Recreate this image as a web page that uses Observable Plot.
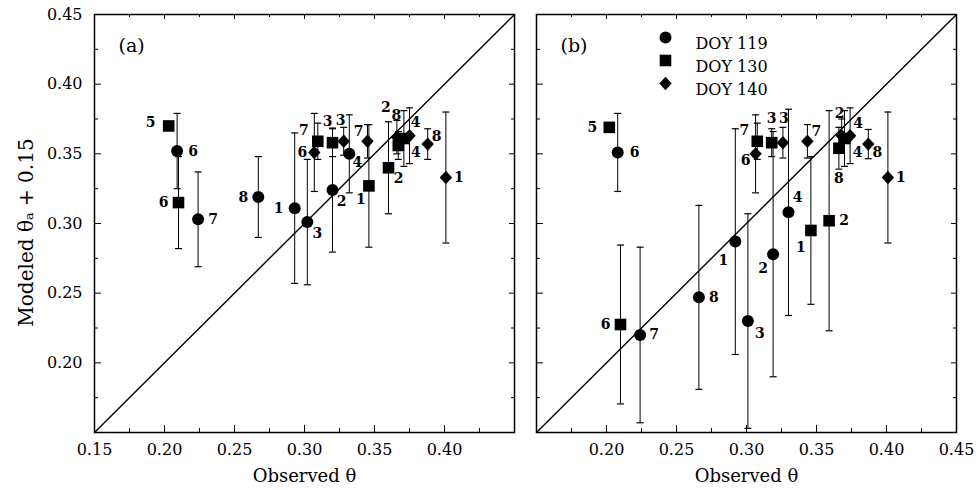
<!DOCTYPE html>
<html><head><meta charset="utf-8">
<script src="https://cdn.jsdelivr.net/npm/d3@7"></script>
<script src="https://cdn.jsdelivr.net/npm/@observablehq/plot@0.6"></script>
<style>
body{margin:0;background:#fff;}
#chart{position:relative;width:977px;height:490px;}
#chart svg{position:absolute;top:0;}
</style></head><body><div id="chart"></div>
<script>
// ---- data ----
const axisDomain = [0.15, 0.45];
const oneToOne = [0.15, 0.45];
const majorTicks = [0.15, 0.20, 0.25, 0.30, 0.35, 0.40, 0.45];
const minorTicks = [0.175, 0.225, 0.275, 0.325, 0.375, 0.425];
const xTickLabelsA = [0.15, 0.20, 0.25, 0.30, 0.35, 0.40];
const xTickLabelsB = [0.20, 0.25, 0.30, 0.35, 0.40, 0.45];
const yTickLabels = [0.20, 0.25, 0.30, 0.35, 0.40, 0.45];
const series = ["DOY 119", "DOY 130", "DOY 140"];
const panelNames = ["(a)", "(b)"];
const xTitle = "Observed θ";
const yTitle = "Modeled θₐ\u00a0+\u00a00.15";

// rows: [site, observed θ, modeled θa + 0.15, error]
const a119 = [[1,0.293,0.311,0.054],[2,0.320,0.324,0.0445],[3,0.302,0.301,0.045],[4,0.332,0.350,0.028],[6,0.209,0.352,0.027],[7,0.224,0.303,0.034],[8,0.267,0.319,0.029]];
const a130 = [[1,0.346,0.327,0.044],[2,0.360,0.340,0.033],[3,0.320,0.358,0.010],[4,0.371,0.361,0.020],[5,0.203,0.370,null],[6,0.210,0.315,0.033],[7,0.3095,0.359,0.013],[8,0.367,0.356,0.010]];
const a140 = [[1,0.401,0.333,0.047],[2,0.366,0.362,0.012],[3,0.328,0.359,0.010],[4,0.375,0.363,0.020],[6,0.307,0.351,0.028],[7,0.345,0.359,0.012],[8,0.388,0.357,0.011]];
const b119 = [[1,0.292,0.287,0.081],[2,0.319,0.278,0.088],[3,0.301,0.230,0.077],[4,0.330,0.308,0.074],[6,0.208,0.351,0.028],[7,0.224,0.220,0.063],[8,0.266,0.247,0.066]];
const b130 = [[1,0.346,0.295,0.053],[2,0.359,0.302,0.079],[3,0.318,0.358,0.010],[4,0.370,0.361,0.020],[5,0.202,0.369,null],[6,0.210,0.2275,0.057],[7,0.3077,0.359,0.013],[8,0.366,0.354,0.015]];
const b140 = [[1,0.401,0.333,0.047],[2,0.368,0.363,0.012],[3,0.326,0.358,0.011],[4,0.374,0.363,0.020],[6,0.3065,0.350,0.028],[7,0.3435,0.359,0.012],[8,0.387,0.357,0.0105]];

// ---- layout (label nudges in px) ----
const labelNudge = {
  "a0":{1:[-16,0],2:[9,11],3:[10,11],4:[8,9],6:[16,0],7:[15,0],8:[-15,0]},
  "a1":{1:[-8,14],2:[10,11],3:[-5,-21],4:[12,14],5:[-18,-3],6:[-15,0],7:[-14,-11],8:[-2,-30]},
  "a2":{1:[13,0],2:[-11,-30],3:[-3,-21],4:[6,-13],6:[-12,0],7:[-9,-10],8:[9,-8]},
  "b0":{1:[-12,19],2:[-10,14],3:[12,12],4:[9,-15],6:[17,0],7:[14,0],8:[15,0]},
  "b1":{1:[-10,17],2:[15,0],3:[0,-24],4:[13,14],5:[-17,0],6:[-15,0],7:[-13,-11],8:[0,30]},
  "b2":{1:[13,0],2:[-2,-22],3:[1,-24],4:[8,-12],6:[-10,7],7:[9,-10],8:[9,8]}
};

const FONT = "DejaVu Serif";
const circleSym = {draw(c, s){ const r = Math.sqrt(s/Math.PI); c.moveTo(r,0); c.arc(0,0,r,0,2*Math.PI); }};
const squareSym = {draw(c, s){ const r = Math.sqrt(s/Math.PI); c.rect(-r,-r,2*r,2*r); }};
const diamondSym = {draw(c, s){ const r = Math.sqrt(s/Math.PI); c.moveTo(0,-r*1.08); c.lineTo(r,0); c.lineTo(0,r*1.08); c.lineTo(-r,0); c.closePath(); }};
const capSym = {draw(c, s){ const r = Math.sqrt(s/Math.PI); c.moveTo(-r,0); c.lineTo(r,0); }};
const symbols = [circleSym, squareSym, diamondSym];
const symR = [6, 5.8, 6.2];

function rowsFor(panel, groups){
  const out = [];
  groups.forEach((g, i) => g.forEach(([site, obs, mod, err]) => {
    const [dx, dy] = labelNudge[panel + i][site] || [12, 0];
    out.push({panel, doy: series[i], gi: i, site, obs, mod, err, dx, dy});
  }));
  return out;
}

const W = 420, H = 418;
function panel(key, groups, opts){
  const rows = rowsFor(key, groups);
  const withErr = rows.filter(d => d.err != null);
  const fmt = d3.format(".2f");
  const marks = [
    Plot.tickX(majorTicks, {x: d => d, insetTop: H - 7, strokeWidth: 1}),
    Plot.tickX(minorTicks, {x: d => d, insetTop: H - 4, strokeWidth: 1}),
    Plot.tickX(majorTicks, {x: d => d, insetBottom: H - 5, strokeWidth: 1}),
    Plot.tickX(minorTicks, {x: d => d, insetBottom: H - 3, strokeWidth: 1}),
    Plot.tickY(majorTicks, {y: d => d, insetRight: W - 7, strokeWidth: 1}),
    Plot.tickY(minorTicks, {y: d => d, insetRight: W - 4, strokeWidth: 1}),
    Plot.tickY(majorTicks, {y: d => d, insetLeft: W - 5, strokeWidth: 1}),
    Plot.tickY(minorTicks, {y: d => d, insetLeft: W - 3, strokeWidth: 1}),
    Plot.axisX(opts.xLabels, {tickSize: 0, tickPadding: 11, tickFormat: fmt, label: null, fontSize: 16}),
    Plot.link([oneToOne], {x1: d => d[0], y1: d => d[0], x2: d => d[1], y2: d => d[1], stroke: "black", strokeWidth: 1.4, clip: "frame"}),
    Plot.ruleX(withErr, {x: "obs", y1: d => d.mod - d.err, y2: d => d.mod + d.err, stroke: "black", strokeWidth: 1, clip: "frame"}),
    Plot.dot(withErr, {x: "obs", y: d => d.mod + d.err, symbol: capSym, r: 3.5, stroke: "black", fill: "none", strokeWidth: 1.2}),
    Plot.dot(withErr, {x: "obs", y: d => d.mod - d.err, symbol: capSym, r: 3.5, stroke: "black", fill: "none", strokeWidth: 1.2}),
    ...series.map((s, i) => Plot.dot(rows.filter(d => d.gi === i), {x: "obs", y: "mod", symbol: symbols[i], r: symR[i], fill: "black", stroke: "none"})),
    ...rows.map(d => Plot.text([d], {x: "obs", y: "mod", text: d => String(d.site), dx: d.dx, dy: d.dy, fontSize: 14, fontWeight: "bold", fill: "black"})),
    Plot.text([opts.name], {x: null, y: null, text: d => d, frameAnchor: "top-left", dx: 24, dy: 24, textAnchor: "start", fontSize: 19, fill: "black"}),
    Plot.text([xTitle], {x: null, y: null, text: d => d, frameAnchor: "bottom", dy: 49, fontSize: 18, fill: "black"}),
    Plot.frame({stroke: "black", strokeWidth: 1.5})
  ];
  if (opts.yAxis) {
    marks.push(Plot.axisY(yTickLabels, {tickSize: 0, tickPadding: 12, tickFormat: fmt, label: null, fontSize: 16}));
    marks.push(Plot.text([yTitle], {x: null, y: null, text: d => d, frameAnchor: "left", textAnchor: "middle", rotate: -90, dx: -68, dy: 9, fontSize: 20, fill: "black"}));
  }
  if (opts.legend) {
    series.forEach((s, i) => {
      marks.push(Plot.dot([s], {x: null, y: null, frameAnchor: "top-left", dx: 129, dy: 23 + i * 23, symbol: symbols[i], r: symR[i], fill: "black"}));
      marks.push(Plot.text([s], {x: null, y: null, text: d => d, frameAnchor: "top-left", dx: 159, dy: 23 + i * 23, textAnchor: "start", fontSize: 16, fill: "black"}));
    });
  }
  return Plot.plot({
    width: opts.width, height: 490,
    marginTop: 14, marginBottom: 58, marginLeft: opts.ml, marginRight: opts.mr,
    x: {domain: axisDomain, axis: null},
    y: {domain: axisDomain, axis: null},
    style: {fontFamily: FONT, fontSize: "16px", color: "black", background: "white", overflow: "visible"},
    marks
  });
}

const chart = document.getElementById("chart");
const pa = panel("a", [a119, a130, a140], {width: 516, ml: 94, mr: 2, xLabels: xTickLabelsA, yAxis: true, name: panelNames[0]});
pa.style.left = "0px";
const pb = panel("b", [b119, b130, b140], {width: 461, ml: 20, mr: 21, xLabels: xTickLabelsB, legend: true, name: panelNames[1]});
pb.style.left = "516px";
chart.appendChild(pa);
chart.appendChild(pb);
</script></body></html>
